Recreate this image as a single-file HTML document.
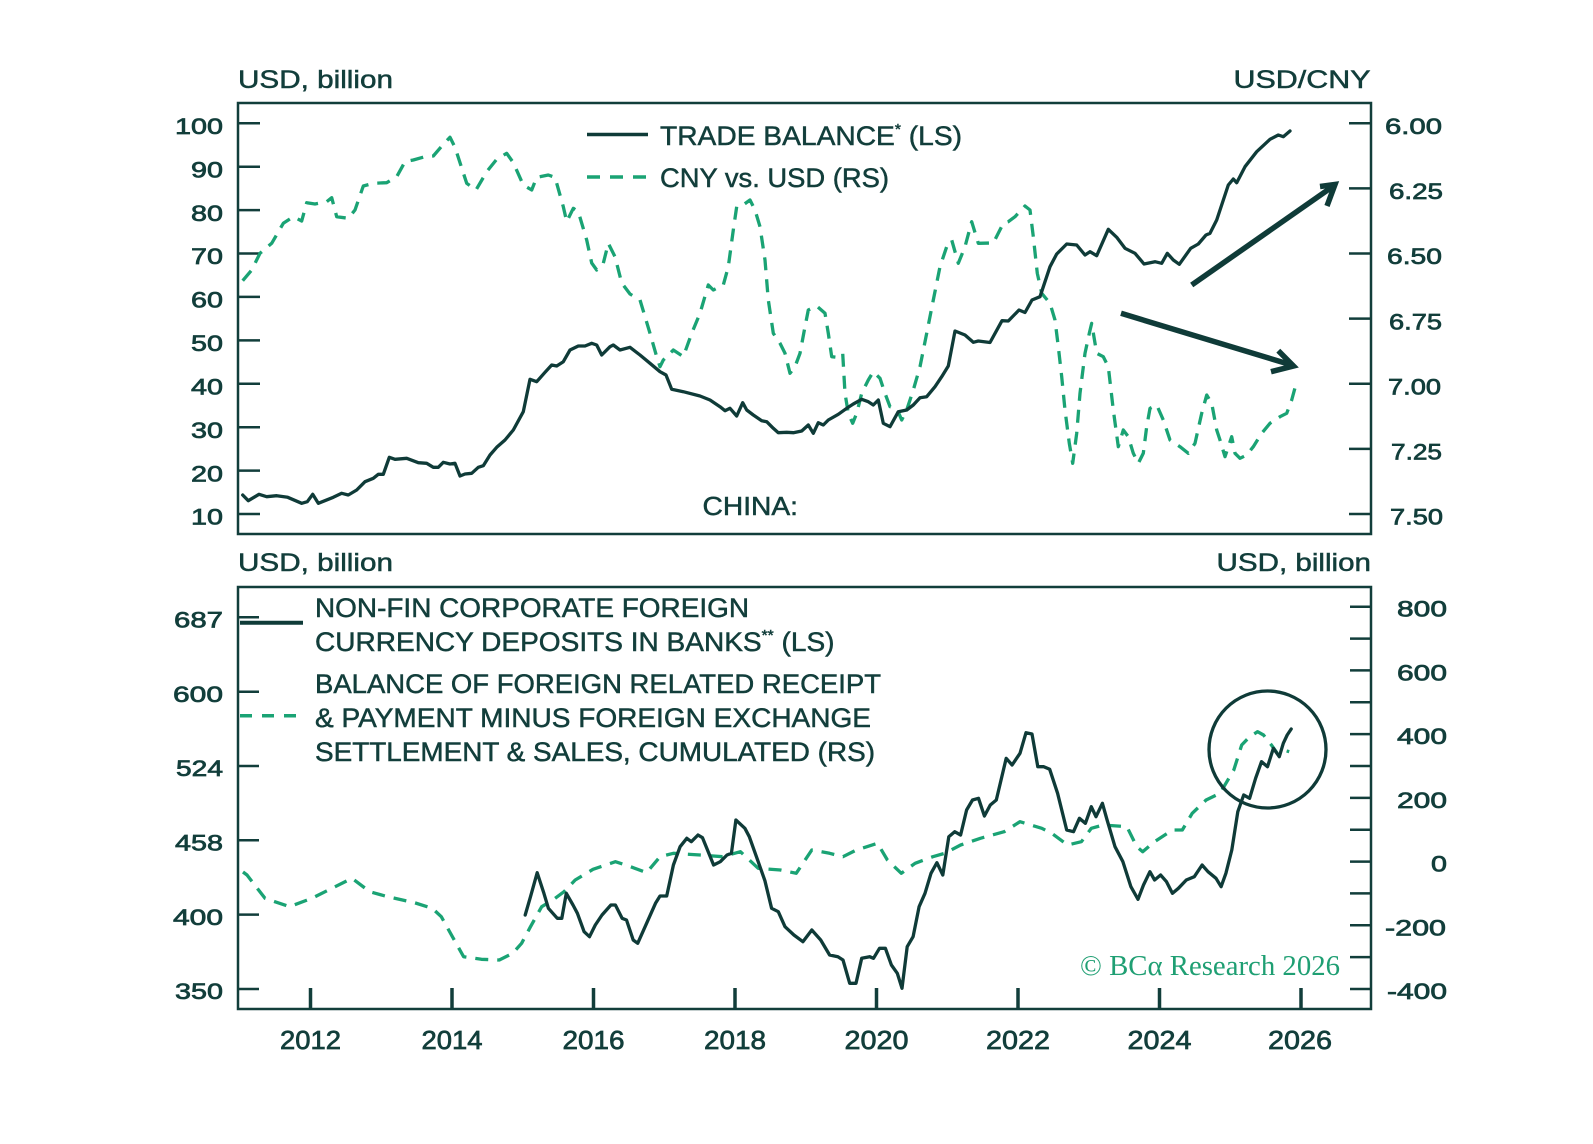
<!DOCTYPE html>
<html>
<head>
<meta charset="utf-8">
<style>
html,body{margin:0;padding:0;background:#fff;}
svg{display:block;}
.t{font-family:"Liberation Sans",sans-serif;fill:#123e3b;stroke:#123e3b;stroke-width:0.5;}
.tk{font-family:"Liberation Sans",sans-serif;fill:#123e3b;stroke:#123e3b;stroke-width:0.7;font-size:22px;}
.xl{font-family:"Liberation Sans",sans-serif;fill:#123e3b;stroke:#123e3b;stroke-width:0.7;font-size:26px;}
</style>
</head>
<body>
<svg width="1593" height="1144" viewBox="0 0 1593 1144" xmlns="http://www.w3.org/2000/svg">
<rect width="1593" height="1144" fill="#fff"/>

<!-- ============ TOP PANEL ============ -->
<text class="t" x="238" y="88" font-size="25" textLength="155" lengthAdjust="spacingAndGlyphs">USD, billion</text>
<text class="t" x="1233.5" y="88" font-size="25" textLength="137" lengthAdjust="spacingAndGlyphs">USD/CNY</text>

<rect x="238" y="103" width="1133" height="431" fill="none" stroke="#123e3b" stroke-width="2.5"/>

<!-- left ticks -->
<g stroke="#123e3b" stroke-width="2.5">
<line x1="238" y1="123.3" x2="260" y2="123.3"/>
<line x1="238" y1="166.7" x2="260" y2="166.7"/>
<line x1="238" y1="210.1" x2="260" y2="210.1"/>
<line x1="238" y1="253.5" x2="260" y2="253.5"/>
<line x1="238" y1="296.9" x2="260" y2="296.9"/>
<line x1="238" y1="340.4" x2="260" y2="340.4"/>
<line x1="238" y1="383.8" x2="260" y2="383.8"/>
<line x1="238" y1="427.2" x2="260" y2="427.2"/>
<line x1="238" y1="470.6" x2="260" y2="470.6"/>
<line x1="238" y1="514" x2="260" y2="514"/>
<!-- right ticks -->
<line x1="1349" y1="123.3" x2="1371" y2="123.3"/>
<line x1="1349" y1="188.4" x2="1371" y2="188.4"/>
<line x1="1349" y1="253.5" x2="1371" y2="253.5"/>
<line x1="1349" y1="318.6" x2="1371" y2="318.6"/>
<line x1="1349" y1="383.8" x2="1371" y2="383.8"/>
<line x1="1349" y1="448.9" x2="1371" y2="448.9"/>
<line x1="1349" y1="514" x2="1371" y2="514"/>
</g>
<g class="tk" text-anchor="end">
<text x="223" y="134" textLength="48" lengthAdjust="spacingAndGlyphs">100</text>
<text x="223" y="177.4" textLength="32" lengthAdjust="spacingAndGlyphs">90</text>
<text x="223" y="220.8" textLength="32" lengthAdjust="spacingAndGlyphs">80</text>
<text x="223" y="264.2" textLength="32" lengthAdjust="spacingAndGlyphs">70</text>
<text x="223" y="307.6" textLength="32" lengthAdjust="spacingAndGlyphs">60</text>
<text x="223" y="351.1" textLength="32" lengthAdjust="spacingAndGlyphs">50</text>
<text x="223" y="394.5" textLength="32" lengthAdjust="spacingAndGlyphs">40</text>
<text x="223" y="437.9" textLength="32" lengthAdjust="spacingAndGlyphs">30</text>
<text x="223" y="481.3" textLength="32" lengthAdjust="spacingAndGlyphs">20</text>
<text x="223" y="524.7" textLength="32" lengthAdjust="spacingAndGlyphs">10</text>
<text x="1442" y="134" textLength="57" lengthAdjust="spacingAndGlyphs">6.00</text>
<text x="1443" y="199.1" textLength="54" lengthAdjust="spacingAndGlyphs">6.25</text>
<text x="1442" y="264.2" textLength="55" lengthAdjust="spacingAndGlyphs">6.50</text>
<text x="1442" y="329.3" textLength="53" lengthAdjust="spacingAndGlyphs">6.75</text>
<text x="1441" y="394.5" textLength="53" lengthAdjust="spacingAndGlyphs">7.00</text>
<text x="1442" y="459.6" textLength="51" lengthAdjust="spacingAndGlyphs">7.25</text>
<text x="1443" y="524.7" textLength="53" lengthAdjust="spacingAndGlyphs">7.50</text>
</g>

<!-- CNY dashed -->
<polyline fill="none" stroke="#1aa374" stroke-width="3.3" stroke-dasharray="13 9" stroke-linejoin="round"
points="242.7,280.7 251.7,270 260,253.3 271.7,243.3 283.3,223.3 293.3,216.7 301.7,221 306.7,202.7 315,204 326.7,201.7 331.7,197.7 336.7,216.7 348.3,218.3 355,210 363.3,186 373.3,183.3 386.7,182.7 396.7,176.7 405,161.7 413.3,160 425,156.7 433.3,156 443.3,144.3 450,137.3 455,147.3 466.7,183.3 476,190 486.7,171.7 496.7,159.3 506.7,153.3 513.3,162.7 523.3,185 531.7,190 536.7,177.3 548.3,175 555,177.3 563.3,206.7 566.7,221.7 573.3,208.3 578.3,211.7 586.7,240 591.7,263 596.7,270 603.3,263.3 608.3,243.3 615,256.7 621.7,283 630,294 640,300 650,333.3 656.7,356.7 660,366.7 663.3,360 673.3,350 683.3,356.7 691.7,333.3 700,313.3 708.3,285 713.3,290 723.3,285 728.3,266.7 733.3,230 736.7,206.7 741.7,206 750,200 755,210 760,226.7 765,260 768.3,300 773.3,333.3 780,343.3 785,353.3 790,373.3 795,366.7 800,353.3 805,326.7 808.3,310 816.7,306 825,313.3 828.3,333.3 831.7,356.7 836.7,357.3 842.7,353.3 845,393.3 848.3,413.3 852.7,423.3 856.7,413.3 861.7,393.3 868.3,380 873.3,371.7 880,378.3 885,393.3 890,406.7 896.7,408.3 901.7,420 906.7,410 913.3,390 920,366.7 926.7,333.3 933.3,300 940,266.7 946.7,246.7 951.7,240 958.3,263.3 965,246.7 971.7,221.7 978.3,243.3 993.3,243 1003.3,223.3 1008.3,221.7 1015,216.7 1025,206 1030,210 1033.3,236.7 1037.3,273.3 1041.7,293.3 1050,303.3 1055,320 1058.3,346.7 1061.7,376.7 1065,410 1069.3,443.3 1072.7,463.3 1076.7,433.3 1080,393.3 1085,353.3 1089.3,333.3 1091.7,323.3 1096.7,353.3 1103.3,356.7 1108.3,366.7 1113.3,410 1118.3,446.7 1123.3,430 1128.3,436.7 1133.3,453.3 1138.3,463.3 1143.3,453.3 1146.7,426.7 1150,408.3 1156.7,405 1163.3,420 1170,440 1180,446.7 1188.3,453.3 1195,443.3 1201.7,413.3 1206.7,395 1211.7,403.3 1216.7,430 1220,440 1225,456.7 1231.7,436.7 1235,453.3 1240,458.3 1246.7,455 1253.3,446.7 1261.7,433.3 1270,423.3 1280,416.7 1286.7,413.3 1291.7,400 1296.7,381.7"/>

<!-- Trade balance solid -->
<polyline fill="none" stroke="#0f3b38" stroke-width="3.3" stroke-linejoin="round" stroke-linecap="round"
points="242.7,495 248.3,500.7 259,494.3 266.7,496.7 276.7,495.7 287.7,497.3 301.7,503.3 307.3,501.7 312.7,494.3 318.3,503.3 333.3,497.3 341.7,493.3 348.3,495 356.7,490 365,481.7 373.3,478.3 378.3,474.3 383.3,474.3 389.3,457.3 395,459.3 406.7,458.3 418.3,462.7 426.7,463.3 433.3,467.3 438.3,467.3 443.3,462.3 450,464 455,463.3 460,476 465,474 471.7,473.3 478.3,467.3 483.3,465.7 490,455 496.7,447.3 505,440 513.3,430 523.3,411.7 530,379.3 536.7,381.7 545,372.3 551.7,365 556.7,366 563.3,361.7 570,350 578.3,346 585,346 591.7,343.3 596.7,345 601.7,355 610,346.7 613.3,345 620,350 630,347.3 640,355 650,363.3 660,371.7 666,375 671.7,389.3 683.3,391.7 700,396 710,400 720,406.7 725,410.7 730,408.3 736.7,416 742.7,402.7 746.7,410 753.3,415 761.7,420.7 766.7,421.7 773.3,428.3 778.3,432.7 786.7,432.3 793.3,432.7 801.7,431 808.3,425 813.3,433.3 818.3,422.7 823.3,425 828.3,420 838.3,414.3 846.7,408.3 853.3,404 861.7,399.3 868.3,401.7 873.3,405 878.3,400 883.3,423.3 890,426.7 898.3,411.7 906.7,410 913.3,405 920,397.7 926.7,396.7 935,386.7 941.7,376.7 948.3,366 955,331 965,335 973.3,342.3 978.3,341 990,342.5 1002,320.7 1008.3,321 1019,310 1025,312.5 1032,300 1040,296.7 1050,266.7 1056.7,254 1066.7,244 1076.7,245 1085,255 1090,251.7 1096.7,255.7 1108.3,229.3 1116.7,237.3 1125,248.3 1135,253.3 1144,264 1155,261.7 1161.7,263.3 1167.3,253.3 1173.3,260 1179.3,264.3 1190.7,248.3 1198.3,244 1206,235 1210,233.3 1216.7,220 1228.3,185 1233.3,179 1236.7,182.7 1245,166.7 1256.7,151.7 1270,139.3 1278.3,135 1283.3,136.7 1290,131"/>

<!-- arrows -->
<g stroke="#0f3b38" stroke-width="5.5" fill="none" stroke-linecap="butt" stroke-linejoin="miter">
<line x1="1191.7" y1="285" x2="1332" y2="187"/>
<polyline points="1320,186.5 1335,184.5 1327,206"/>
<line x1="1121" y1="313.3" x2="1290" y2="364.5"/>
<polyline points="1278.3,350.7 1293.5,366 1271,371.7"/>
</g>

<!-- top legend -->
<line x1="587" y1="134.5" x2="648" y2="134.5" stroke="#0f3b38" stroke-width="3.5"/>
<line x1="587" y1="177" x2="648" y2="177" stroke="#1aa374" stroke-width="3.5" stroke-dasharray="13 10"/>
<text class="t" x="660" y="145" font-size="27" textLength="302" lengthAdjust="spacingAndGlyphs">TRADE BALANCE<tspan font-size="15" dy="-11">*</tspan><tspan dy="11"> (LS)</tspan></text>
<text class="t" x="660" y="187" font-size="27" textLength="229" lengthAdjust="spacingAndGlyphs">CNY vs. USD (RS)</text>
<text class="t" x="702.5" y="515" font-size="26" textLength="95.5" lengthAdjust="spacingAndGlyphs">CHINA:</text>

<!-- ============ BOTTOM PANEL ============ -->
<text class="t" x="238" y="571" font-size="25" textLength="155" lengthAdjust="spacingAndGlyphs">USD, billion</text>
<text class="t" x="1216.5" y="571" font-size="25" textLength="154.5" lengthAdjust="spacingAndGlyphs">USD, billion</text>

<rect x="238" y="587" width="1133" height="422" fill="none" stroke="#123e3b" stroke-width="2.5"/>

<g stroke="#123e3b" stroke-width="2.5">
<line x1="238" y1="617.3" x2="259" y2="617.3"/>
<line x1="238" y1="691.7" x2="259" y2="691.7"/>
<line x1="238" y1="766" x2="259" y2="766"/>
<line x1="238" y1="840.3" x2="259" y2="840.3"/>
<line x1="238" y1="914.6" x2="259" y2="914.6"/>
<line x1="238" y1="989" x2="259" y2="989"/>

<line x1="1350" y1="606.7" x2="1371" y2="606.7"/>
<line x1="1350" y1="638.6" x2="1371" y2="638.6"/>
<line x1="1350" y1="670.4" x2="1371" y2="670.4"/>
<line x1="1350" y1="702.3" x2="1371" y2="702.3"/>
<line x1="1350" y1="734.1" x2="1371" y2="734.1"/>
<line x1="1350" y1="766" x2="1371" y2="766"/>
<line x1="1350" y1="797.9" x2="1371" y2="797.9"/>
<line x1="1350" y1="829.7" x2="1371" y2="829.7"/>
<line x1="1350" y1="861.6" x2="1371" y2="861.6"/>
<line x1="1350" y1="893.4" x2="1371" y2="893.4"/>
<line x1="1350" y1="925.3" x2="1371" y2="925.3"/>
<line x1="1350" y1="957.1" x2="1371" y2="957.1"/>
<line x1="1350" y1="989" x2="1371" y2="989"/>
</g>
<g stroke="#123e3b" stroke-width="3.5">
<line x1="310.5" y1="988" x2="310.5" y2="1009"/>
<line x1="452" y1="988" x2="452" y2="1009"/>
<line x1="593.5" y1="988" x2="593.5" y2="1009"/>
<line x1="735" y1="988" x2="735" y2="1009"/>
<line x1="876.5" y1="988" x2="876.5" y2="1009"/>
<line x1="1018" y1="988" x2="1018" y2="1009"/>
<line x1="1159.5" y1="988" x2="1159.5" y2="1009"/>
<line x1="1301" y1="988" x2="1301" y2="1009"/>
</g>

<g class="tk" text-anchor="end">
<text x="223" y="627.5" textLength="49" lengthAdjust="spacingAndGlyphs">687</text>
<text x="223" y="701.9" textLength="50" lengthAdjust="spacingAndGlyphs">600</text>
<text x="223" y="776.2" textLength="47" lengthAdjust="spacingAndGlyphs">524</text>
<text x="223" y="850.5" textLength="48" lengthAdjust="spacingAndGlyphs">458</text>
<text x="223" y="924.8" textLength="50" lengthAdjust="spacingAndGlyphs">400</text>
<text x="223" y="999.2" textLength="48" lengthAdjust="spacingAndGlyphs">350</text>

<text x="1447" y="616.7" textLength="50" lengthAdjust="spacingAndGlyphs">800</text>
<text x="1447" y="680.4" textLength="50" lengthAdjust="spacingAndGlyphs">600</text>
<text x="1447" y="744.1" textLength="50" lengthAdjust="spacingAndGlyphs">400</text>
<text x="1447" y="807.9" textLength="50" lengthAdjust="spacingAndGlyphs">200</text>
<text x="1447" y="871.6" textLength="16" lengthAdjust="spacingAndGlyphs">0</text>
<text x="1446" y="935.3" textLength="61" lengthAdjust="spacingAndGlyphs">-200</text>
<text x="1447" y="999" textLength="60" lengthAdjust="spacingAndGlyphs">-400</text>
</g>

<g class="xl" text-anchor="middle">
<text x="310.5" y="1049" textLength="61" lengthAdjust="spacingAndGlyphs">2012</text>
<text x="452" y="1049" textLength="61" lengthAdjust="spacingAndGlyphs">2014</text>
<text x="593.5" y="1049" textLength="62" lengthAdjust="spacingAndGlyphs">2016</text>
<text x="735" y="1049" textLength="62" lengthAdjust="spacingAndGlyphs">2018</text>
<text x="876.5" y="1049" textLength="64" lengthAdjust="spacingAndGlyphs">2020</text>
<text x="1018" y="1049" textLength="64" lengthAdjust="spacingAndGlyphs">2022</text>
<text x="1159.5" y="1049" textLength="64" lengthAdjust="spacingAndGlyphs">2024</text>
<text x="1300" y="1049" textLength="64" lengthAdjust="spacingAndGlyphs">2026</text>
</g>

<!-- bottom dashed -->
<polyline fill="none" stroke="#1aa374" stroke-width="3.3" stroke-dasharray="13 9" stroke-linejoin="round"
points="243,872 247,875 265,898.3 289.5,906.7 311.8,898.3 331.9,888.3 352,878.3 369.8,891.7 387.7,896.7 414.5,902.7 432.3,908.3 441.3,916.7 452.4,936.7 463.6,956.7 481.4,959.3 499.3,960 512.7,953.3 521.6,943.3 530.5,926.7 541.7,906.7 552.9,900 564,891.7 575.2,880 593,869.3 615.4,861.7 628.8,866 646.6,872.7 660,856.7 673.4,853.3 700.2,855 722.5,856.7 740.4,851.7 758.2,868.3 780.5,870 796.2,873.3 811.8,850 829.6,853.3 843,856.7 856.4,850 877.5,843.3 887.4,860 901.3,873.3 915.1,863.3 932.9,856.7 944.8,853.3 960.6,845 980.4,838.3 1004.2,831.7 1020,821.7 1041.8,828.3 1051.7,833.3 1067.5,845 1081.4,841.7 1091.3,828.3 1103.2,825 1126.9,826.7 1136.8,846.7 1142.7,851.7 1154.6,841.7 1172.4,830 1182.3,830 1192.2,813.3 1206.1,800 1220,793.3 1225.9,783.3 1233.8,770 1241.7,745 1249.7,736.7 1257.6,731.7 1263.5,735 1271.4,745 1277.3,753.3 1283.3,750 1289.2,751.7"/>

<!-- bottom solid -->
<polyline fill="none" stroke="#0f3b38" stroke-width="3.3" stroke-linejoin="round" stroke-linecap="round"
points="525.2,915 530.5,896.7 537.2,872.7 543.9,893.3 548.4,908.3 557.3,918.3 561.8,918.3 566.3,893.3 573,905 577.4,913.3 584.1,931.7 589.5,936.7 595.3,925 602,915 610.9,905 615.4,905 622.1,918.3 626.5,920 633.2,940 637.7,943.3 646.6,923.3 655.5,903.3 660,896 666.7,896 673.4,865 680.1,846.7 686.8,838.3 691.3,841.7 698,835 702.5,837.7 713.6,865 720.3,861.7 727,855 731.4,853.3 735.9,820 744.9,828.3 749.3,836.7 758.2,861.7 764.9,880.7 771.6,908.3 778.3,911.7 785,926.7 793.9,935 802.9,941.7 811.8,930 820.7,940 829.6,955 837.9,956.7 843,960 849.7,983.3 856,983.3 861.7,958.3 869.6,956.7 873.5,958.3 879.5,948.3 885.4,948.3 891.4,965 897.3,973.3 902,988.3 907.2,946.7 913.1,936.7 919.1,906.7 925,893.3 931,873.3 936.9,862.7 942.8,875 948.8,836.7 954.7,831.7 960.6,835 966.6,810 972.5,800 978.5,798.3 984.4,816 990.3,805 996.3,800 1006.2,758.3 1012.1,765 1020,753.3 1026,732.7 1032,734 1037.8,766.7 1043.8,766.7 1049.7,769.3 1057.6,793.3 1066.7,830 1073.5,831.7 1079.4,818.3 1085.4,823.3 1091.3,806.7 1096,816.7 1102.4,803.3 1107.1,820 1115,846.7 1122.9,861.7 1130.9,886.7 1138,899.3 1143.5,885 1149.9,871.7 1154.6,880 1160.6,875 1166.5,881.7 1172.4,893.3 1178.4,888.3 1186.3,880 1194.3,876.7 1202.1,865 1208,871.7 1216,878.3 1221.1,886.7 1225.9,873.3 1231.8,850 1237.8,811.7 1243.7,795 1249.6,798.3 1255.6,778.3 1261.5,761.7 1267.5,766.7 1273.4,748.3 1279.3,756.7 1283.3,743.3 1287.2,735 1291.2,729"/>

<!-- circle -->
<circle cx="1267.5" cy="749.5" r="58.5" fill="none" stroke="#0f3b38" stroke-width="3.3"/>

<!-- bottom legend -->
<line x1="240" y1="622.7" x2="303" y2="622.7" stroke="#0f3b38" stroke-width="4"/>
<line x1="240" y1="715.7" x2="303" y2="715.7" stroke="#1aa374" stroke-width="3.5" stroke-dasharray="12 10"/>
<text class="t" x="315" y="617" font-size="27" textLength="434" lengthAdjust="spacingAndGlyphs">NON-FIN CORPORATE FOREIGN</text>
<text class="t" x="315" y="651" font-size="27" textLength="519.5" lengthAdjust="spacingAndGlyphs">CURRENCY DEPOSITS IN BANKS<tspan font-size="15" dy="-11">**</tspan><tspan dy="11"> (LS)</tspan></text>
<text class="t" x="315" y="693" font-size="27" textLength="566" lengthAdjust="spacingAndGlyphs">BALANCE OF FOREIGN RELATED RECEIPT</text>
<text class="t" x="315" y="727" font-size="27" textLength="556" lengthAdjust="spacingAndGlyphs">&amp; PAYMENT MINUS FOREIGN EXCHANGE</text>
<text class="t" x="315" y="761" font-size="27" textLength="560" lengthAdjust="spacingAndGlyphs">SETTLEMENT &amp; SALES, CUMULATED (RS)</text>

<!-- copyright -->
<text x="1080" y="975" font-family="'Liberation Serif', serif" font-size="28" fill="#1f9f73" textLength="260" lengthAdjust="spacingAndGlyphs">© BCα Research 2026</text>

</svg>
</body>
</html>
